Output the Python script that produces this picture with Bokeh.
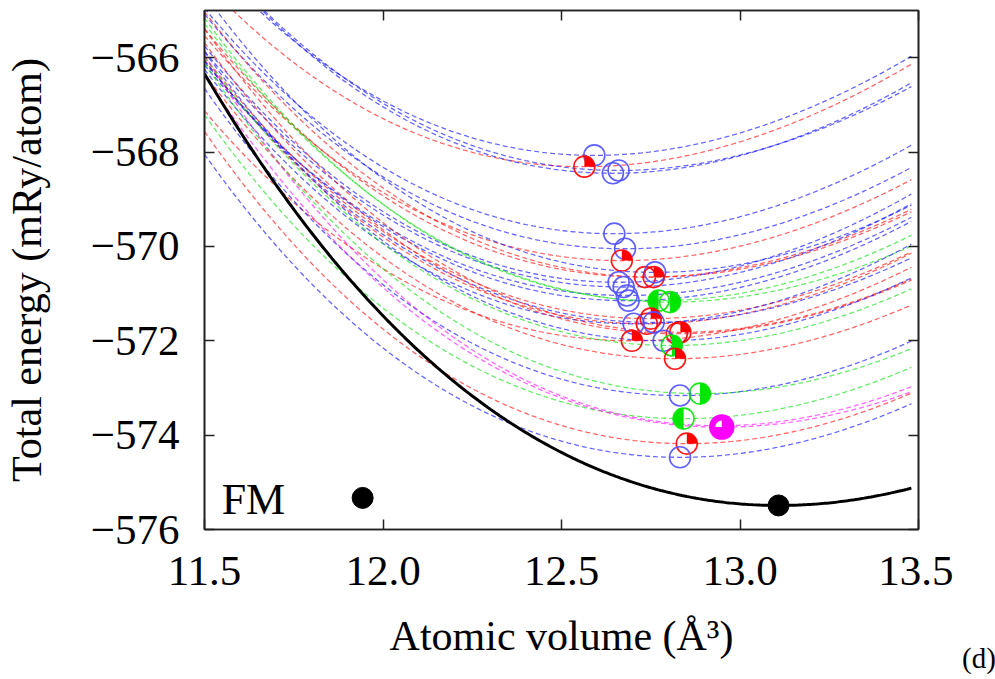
import numpy as np
from bokeh.plotting import figure
from bokeh.layouts import row
from bokeh.models import Range1d, FixedTicker, LinearAxis, Label, Div
from bokeh.embed import file_html
from bokeh.resources import INLINE

# ---------------- data ----------------
x_ticks = [11.5, 12.0, 12.5, 13.0, 13.5]
x_tick_labels = ["11.5", "12.0", "12.5", "13.0", "13.5"]
y_ticks = [-576, -574, -572, -570, -568, -566]
y_tick_labels = ["\u2212576", "\u2212574", "\u2212572", "\u2212570", "\u2212568", "\u2212566"]

# Birch-Murnaghan fits of each magnetic configuration: V0 (A^3), E0 (mRy), B (mRy/A^3)
curve_v0 = [12.592, 12.564, 12.644, 12.660, 12.648, 12.678, 12.669, 12.734,
            12.762, 12.758, 12.660, 12.674, 12.683, 12.688, 12.772, 12.804,
            12.750, 12.739, 12.758, 12.702, 12.697, 12.833, 12.823, 12.786,
            12.809, 12.818, 12.832, 12.888, 12.842, 12.949, 12.940, 12.851, 12.832]
curve_e0 = [-568.07, -568.31, -568.45, -568.39, -569.73, -570.05, -570.30, -570.65,
            -570.55, -570.65, -570.76, -570.86, -571.04, -571.15, -571.15, -571.18,
            -571.53, -571.64, -571.61, -571.64, -572.00, -571.82, -571.85, -572.00,
            -572.10, -572.38, -573.16, -573.12, -573.65, -573.83, -573.80, -574.18, -574.47]
curve_b = [76, 74, 78, 75, 77, 76, 74, 73,
           78, 75, 79, 77, 74, 76, 78, 73,
           75, 77, 74, 79, 72, 76, 74, 78,
           75, 73, 77, 76, 75, 74, 79, 76, 76]
curve_color = ["blue", "red", "blue", "blue", "blue", "blue", "red", "red",
               "blue", "red", "blue", "blue", "blue", "blue", "green", "green",
               "red", "red", "blue", "blue", "red", "red", "red", "blue",
               "green", "red", "blue", "green", "green", "magenta", "magenta", "red", "blue"]
curve_marker = ["open", "q", "open", "open", "open", "open", "q", "open",
                "open", "q", "open", "open", "open", "open", "hl", "hr",
                "q", "open", "open", "open", "q", "q", "open", "open",
                "hr", "q", "open", "hr", "hl", "full", "none", "q", "open"]
b_prime = 4.5

# ferromagnetic reference
fm_v0, fm_e0, fm_b = 13.108, -575.49, 73.0
fm_key_v, fm_key_e = 11.943, -575.33

# --------------- styles ---------------
line_rgb = {"blue": "#0000ff", "red": "#ff0000", "green": "#00dd00", "magenta": "#ff00ff"}
mark_rgb = {"blue": "#5050ff", "red": "#ff0000", "green": "#00e600", "magenta": "#ff00ff"}
SERIF = "Liberation Serif"


def birch_murnaghan(v, v0, e0, b, bp):
    eta = (v0 / v) ** (2.0 / 3.0)
    return e0 + 9.0 * v0 * b / 16.0 * ((eta - 1) ** 3 * bp + (eta - 1) ** 2 * (6 - 4 * eta))


v_grid = np.linspace(11.5, 13.48, 300)

p = figure(frame_width=714, frame_height=519, x_range=Range1d(11.5, 13.5), y_range=Range1d(-576, -565),
           output_backend="svg", toolbar_location=None,
           min_border_left=201, min_border_right=35, min_border_top=10, min_border_bottom=148)
p.grid.visible = False
p.outline_line_color = "#222222"
p.outline_line_width = 1.6
p.background_fill_color = "white"
p.border_fill_color = "white"

xs, ys, cols = [], [], []
for v0, e0, b, c in zip(curve_v0, curve_e0, curve_b, curve_color):
    xs.append(v_grid)
    ys.append(birch_murnaghan(v_grid, v0, e0, b, b_prime))
    cols.append(line_rgb[c])
p.multi_line(xs, ys, line_color=cols, line_width=1.3, line_alpha=0.6, line_dash="5 3")

p.line(v_grid, birch_murnaghan(v_grid, fm_v0, fm_e0, fm_b, b_prime), line_color="black", line_width=3)

R = 10.5
angles = {"q": (0.0, np.pi / 2), "hl": (np.pi / 2, 3 * np.pi / 2), "hr": (-np.pi / 2, np.pi / 2)}
for v0, e0, c, m in zip(curve_v0, curve_e0, curve_color, curve_marker):
    if m == "none":
        continue
    if m == "full":
        p.scatter([v0], [e0], size=2 * R + 3, marker="circle", fill_color=mark_rgb[c],
                  line_color=mark_rgb[c], line_width=1.5)
        p.wedge([v0], [e0], radius=6.5, radius_units="screen", start_angle=np.pi / 2,
                end_angle=np.pi, fill_color="white", line_color=None)
        continue
    if m in angles:
        a0, a1 = angles[m]
        p.wedge([v0], [e0], radius=R, radius_units="screen", start_angle=a0, end_angle=a1,
                fill_color=mark_rgb[c], line_color=None)
    p.scatter([v0], [e0], size=2 * R, marker="circle", fill_color=None,
              line_color=mark_rgb[c], line_width=1.6, line_alpha=0.9)

p.scatter([fm_v0, fm_key_v], [fm_e0, fm_key_e], size=21, marker="circle",
          fill_color="black", line_color="black")

# --------------- axes ---------------
def style_axis(ax, ticks, labels, show_labels):
    ax.ticker = FixedTicker(ticks=ticks)
    ax.major_tick_in = 10
    ax.major_tick_out = 0
    ax.minor_tick_in = 0
    ax.minor_tick_out = 0
    ax.major_tick_line_width = 1.5
    ax.major_tick_line_color = "#222222"
    ax.axis_line_width = 1.6
    ax.axis_line_color = "#222222"
    if show_labels:
        ax.major_label_overrides = {t: l for t, l in zip(ticks, labels)}
        ax.major_label_text_font = SERIF
        ax.major_label_text_font_size = "43px"
        ax.major_label_text_color = "black"
    else:
        ax.major_label_text_font_size = "0px"
        ax.major_label_text_color = None


style_axis(p.xaxis[0], x_ticks, x_tick_labels, True)
style_axis(p.yaxis[0], y_ticks, y_tick_labels, True)
p.xaxis[0].major_label_standoff = 27
p.yaxis[0].major_label_standoff = 25

p.xaxis[0].axis_label = "Atomic volume (\u00c5\u00b3)"
p.yaxis[0].axis_label = "Total energy (mRy/atom)"
for ax in (p.xaxis[0], p.yaxis[0]):
    ax.axis_label_text_font = SERIF
    ax.axis_label_text_font_size = "42px"
    ax.axis_label_text_font_style = "normal"
    ax.axis_label_text_color = "black"
p.xaxis[0].axis_label_standoff = 25
p.yaxis[0].axis_label_standoff = 38

top_ax = LinearAxis()
style_axis(top_ax, x_ticks, x_tick_labels, False)
p.add_layout(top_ax, "above")
right_ax = LinearAxis()
style_axis(right_ax, y_ticks, y_tick_labels, False)
p.add_layout(right_ax, "right")

p.add_layout(Label(x=11.548, y=-575.354, text="FM", text_font=SERIF, text_font_size="44px",
                   text_align="left", text_baseline="middle", text_color="black"))

# panel tag "(d)" at the lower right, beside the plot
tag = Div(text='<span style="font-family:\'Liberation Serif\'; font-size:29px; line-height:1; '
               'color:black; white-space:nowrap;">(d)</span>',
          width=44, height=34, margin=(644, 0, 0, 9))

layout = row(p, tag, spacing=0)
open("out.html", "w").write(file_html(layout, INLINE))
